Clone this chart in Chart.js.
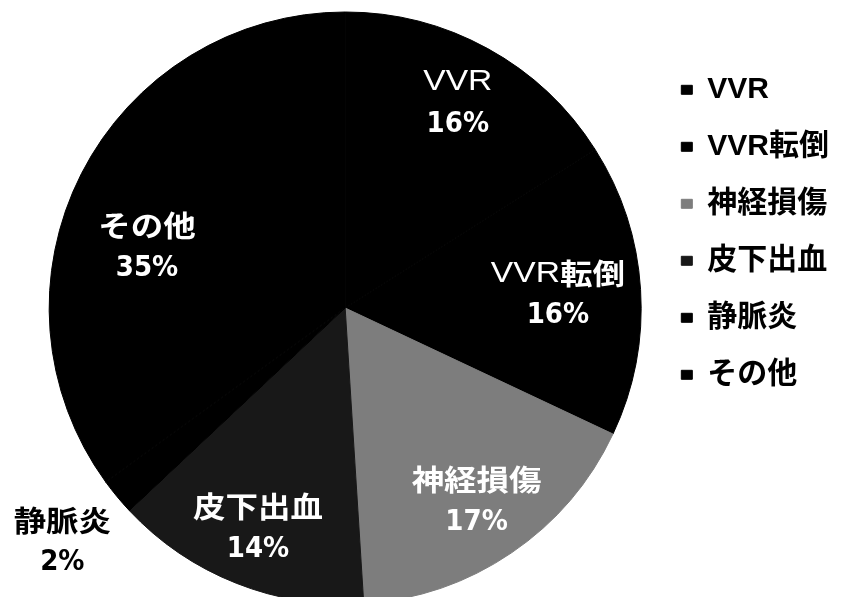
<!DOCTYPE html>
<html>
<head>
<meta charset="utf-8">
<script src="https://cdn.jsdelivr.net/npm/chart.js@4/dist/chart.umd.min.js"></script>
<style>
  html, body { margin: 0; padding: 0; background: #ffffff; overflow: hidden; }
  #wrap { width: 844px; height: 597px; }
</style>
</head>
<body>
<div id="wrap"><canvas id="c" width="844" height="597"></canvas></div>
<script>
// ---- data ----
const categories = ['VVR', 'VVR転倒', '神経損傷', '皮下出血', '静脈炎', 'その他'];
const shares = [16, 16, 17, 14, 2, 35];

// ---- style ----
const sliceColors = ['#000000', '#000000', '#7d7d7d', '#181818', '#000000', '#000000'];
const labelColors = ['#ffffff', '#ffffff', '#ffffff', '#ffffff', '#000000', '#ffffff'];
const labelRadius = [0.79, 0.72, 0.79, 0.80, 1.24, 0.70];
const labelAngleShift = [0, 0, 0, 0, 0, -10];

function drawRuns(ctx, text, cx, cy, size, stretch) {
  // split into ASCII (regular) and CJK (bold) runs
  const runs = text.match(/[\x00-\x7F]+|[^\x00-\x7F]+/g) || [];
  const fontFor = r => /[^\x00-\x7F]/.test(r)
    ? 'bold ' + (size - 1) + 'px "Noto Sans CJK JP", sans-serif'
    : 'normal ' + size + 'px "Liberation Sans", Arial, sans-serif';
  let total = 0;
  const widths = runs.map(r => { ctx.font = fontFor(r); const w = ctx.measureText(r).width; total += w; return w; });
  ctx.save();
  ctx.translate(cx, cy);
  ctx.scale(stretch, 1);
  let x = -total / 2;
  ctx.textAlign = 'left';
  ctx.textBaseline = 'middle';
  runs.forEach((r, i) => { ctx.font = fontFor(r); ctx.fillText(r, x, 0); x += widths[i]; });
  ctx.restore();
}

const sliceLabels = {
  id: 'sliceLabels',
  afterDatasetsDraw(chart) {
    const ctx = chart.ctx;
    const meta = chart.getDatasetMeta(0);
    const values = chart.data.datasets[0].data;
    const total = values.reduce((a, b) => a + b, 0);
    meta.data.forEach((arc, i) => {
      const p = arc.getProps(['x', 'y', 'startAngle', 'endAngle', 'outerRadius'], true);
      const mid = (p.startAngle + p.endAngle) / 2 + labelAngleShift[i] * Math.PI / 180;
      const r = p.outerRadius * labelRadius[i];
      const cx = p.x + Math.cos(mid) * r;
      const cy = p.y + Math.sin(mid) * r;
      ctx.save();
      ctx.fillStyle = labelColors[i];
      drawRuns(ctx, chart.data.labels[i], cx, cy - 21, 30, 1.12);
      ctx.font = 'bold 29px "Liberation Sans Narrow", "DejaVu Sans Condensed", "Liberation Sans", sans-serif';
      ctx.textAlign = 'center';
      ctx.textBaseline = 'middle';
      ctx.fillText(Math.round(values[i] / total * 100) + '%', cx, cy + 21);
      ctx.restore();
    });
  }
};

new Chart(document.getElementById('c'), {
  type: 'pie',
  data: {
    labels: categories,
    datasets: [{
      data: shares,
      backgroundColor: sliceColors,
      borderColor: sliceColors,
      borderWidth: 1,
      clip: false
    }]
  },
  options: {
    responsive: false,
    animation: false,
    radius: 296,
    layout: { padding: { left: 36, right: 5, top: 19, bottom: 0 } },
    plugins: {
      legend: {
        position: 'right',
        align: 'start',
        title: { display: true, text: ' ', padding: 0, font: { size: 24 } },
        labels: {
          boxWidth: 11,
          boxHeight: 9,
          padding: 27,
          color: '#000000',
          font: { size: 30, weight: 'bold', family: '"Liberation Sans", "Noto Sans CJK JP", sans-serif' }
        }
      },
      tooltip: { enabled: false }
    }
  },
  plugins: [sliceLabels]
});
</script>
</body>
</html>
